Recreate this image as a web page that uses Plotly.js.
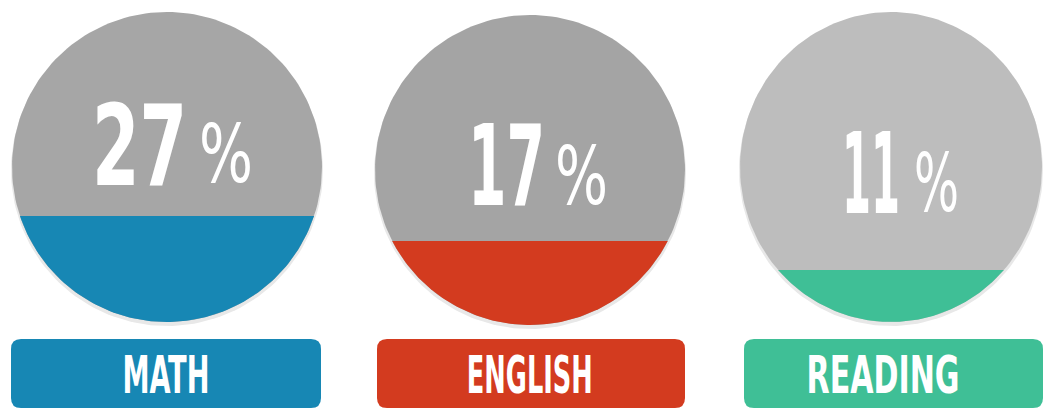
<!DOCTYPE html>
<html>
<head>
<meta charset="utf-8">
<script src="https://cdn.plot.ly/plotly-3.0.1.min.js"></script>
<style>
  html, body { margin: 0; padding: 0; background: #ffffff; }
  #chart { width: 1044px; height: 412px; }
</style>
</head>
<body>
<div id="chart"></div>
<script>
// ---- data ----
const categories = ['MATH', 'ENGLISH', 'READING'];
const values = [27, 17, 11];                 // percent shown in each circle
const fillLevels = [0.342, 0.271, 0.168];    // filled share of the circle height, as drawn
const accentColors = ['#1787b4', '#d33b1f', '#3fbf96'];
const grayColors = ['#a6a6a6', '#a4a4a4', '#bdbdbd'];

// ---- layout geometry (pixels; axes map 1 unit = 1 px) ----
const W = 1044, H = 412;
const cx = [167, 530, 891];
const cy = [167, 170, 167];
const rx = [155, 155, 151];
const ry = [155, 155, 155];
const boxX0 = [11, 377, 744], boxX1 = [321, 685, 1043];
const boxY0 = 339, boxY1 = 408, boxR = 10;
// number lettering: left edge, width, baseline
const numLeft = [92, 468, 842], numWidth = [95, 77, 58], numBase = [185, 205, 213];
// percent sign: left edge, width, baseline
const signLeft = [199, 555, 914], signWidth = [54, 53, 45], signBase = [182, 204, 211];
const labelX = [166, 530, 883];
const labelWidth = [87, 126, 153];
const FONT = 'Liberation Sans Narrow, DejaVu Sans Condensed, Arial Narrow, sans-serif';
const NUM_SIZE = 112, SIGN_SIZE = 80, DESC = 0.236;

function ellipse(x0, y0, a, b, n) {
  const xs = [], ys = [];
  for (let k = 0; k <= n; k++) {
    const t = 2 * Math.PI * k / n;
    xs.push(x0 + a * Math.cos(t));
    ys.push(y0 + b * Math.sin(t));
  }
  return [xs, ys];
}
function segment(x0, y0, a, b, level, n) {
  const yLine = y0 + b - 2 * b * level;
  const s = (yLine - y0) / b;
  const t0 = Math.asin(s), t1 = Math.PI - t0;
  const xs = [], ys = [];
  for (let k = 0; k <= n; k++) {
    const t = t0 + (t1 - t0) * k / n;
    xs.push(x0 + a * Math.cos(t));
    ys.push(y0 + b * Math.sin(t));
  }
  return [xs, ys];
}
function roundRect(x0, y0, x1, y1, r) {
  return `M${x0 + r},${y0} L${x1 - r},${y0} Q${x1},${y0} ${x1},${y0 + r} ` +
         `L${x1},${y1 - r} Q${x1},${y1} ${x1 - r},${y1} L${x0 + r},${y1} ` +
         `Q${x0},${y1} ${x0},${y1 - r} L${x0},${y0 + r} Q${x0},${y0} ${x0 + r},${y0} Z`;
}

const traces = [];
const shapes = [];
const annotations = [];
const fits = [];   // how each annotation's lettering is fitted after drawing
categories.forEach((cat, i) => {
  // soft shadow under the disc
  const sh = ellipse(cx[i], cy[i] + 3, rx[i] + 1, ry[i] + 1, 180);
  traces.push({ type: 'scatter', mode: 'lines', x: sh[0], y: sh[1], fill: 'toself',
    fillcolor: '#e8e8e8', line: { width: 0, color: '#e8e8e8' }, hoverinfo: 'skip' });
  // gray disc
  const c = ellipse(cx[i], cy[i], rx[i], ry[i], 180);
  traces.push({ type: 'scatter', mode: 'lines', x: c[0], y: c[1], fill: 'toself',
    fillcolor: grayColors[i], line: { width: 0, color: grayColors[i] }, hoverinfo: 'skip' });
  // coloured fill level
  const s = segment(cx[i], cy[i], rx[i], ry[i], fillLevels[i], 120);
  traces.push({ type: 'scatter', mode: 'lines', x: s[0], y: s[1], fill: 'toself',
    fillcolor: accentColors[i], line: { width: 0, color: accentColors[i] }, hoverinfo: 'skip' });
  // label box
  shapes.push({ type: 'path', xref: 'x', yref: 'y', layer: 'below',
    path: roundRect(boxX0[i], boxY0, boxX1[i], boxY1, boxR),
    fillcolor: accentColors[i], line: { width: 0 } });
  // number
  annotations.push({ x: numLeft[i], y: numBase[i] - 30, xref: 'x', yref: 'y',
    xanchor: 'left', yanchor: 'middle', showarrow: false,
    text: String(values[i]),
    font: { family: FONT, size: NUM_SIZE, color: '#ffffff', weight: 'bold' } });
  fits.push({ left: numLeft[i], width: numWidth[i], base: numBase[i], size: NUM_SIZE });
  // percent sign
  annotations.push({ x: signLeft[i], y: signBase[i] - 22, xref: 'x', yref: 'y',
    xanchor: 'left', yanchor: 'middle', showarrow: false,
    text: '%',
    font: { family: FONT, size: SIGN_SIZE, color: '#ffffff', weight: 'normal' } });
  fits.push({ left: signLeft[i], width: signWidth[i], base: signBase[i], size: SIGN_SIZE });
  // category label
  annotations.push({ x: labelX[i], y: (boxY0 + boxY1) / 2 + 1, xref: 'x', yref: 'y',
    xanchor: 'center', yanchor: 'middle', showarrow: false,
    text: cat,
    font: { family: FONT, size: 52, color: '#ffffff', weight: 'bold' } });
  fits.push({ center: true, width: labelWidth[i] });
});

const layout = {
  width: W, height: H,
  margin: { l: 0, r: 0, t: 0, b: 0, pad: 0 },
  paper_bgcolor: '#ffffff', plot_bgcolor: '#ffffff',
  showlegend: false, hovermode: false,
  xaxis: { range: [0, W], visible: false, fixedrange: true },
  yaxis: { range: [H, 0], visible: false, fixedrange: true },
  shapes: shapes, annotations: annotations
};

Plotly.newPlot('chart', traces, layout, { displayModeBar: false, staticPlot: true }).then(() => {
  // condense the lettering like the narrow display face of the original
  document.querySelectorAll('#chart .annotation-text').forEach((el, k) => {
    const f = fits[k];
    const r = el.getBoundingClientRect();
    if (!f || !r.width) return;
    const sx = Math.min(1.3, f.width / r.width);
    el.style.transformBox = 'fill-box';
    if (f.center) {
      el.style.transformOrigin = 'center';
      el.style.transform = `scaleX(${sx.toFixed(3)})`;
    } else {
      const baseline = r.bottom - DESC * f.size;
      const dx = f.left - r.left, dy = f.base - baseline;
      el.style.transformOrigin = 'left center';
      el.style.transform = `translate(${dx.toFixed(1)}px, ${dy.toFixed(1)}px) scaleX(${sx.toFixed(3)})`;
    }
  });
});
</script>
</body>
</html>
